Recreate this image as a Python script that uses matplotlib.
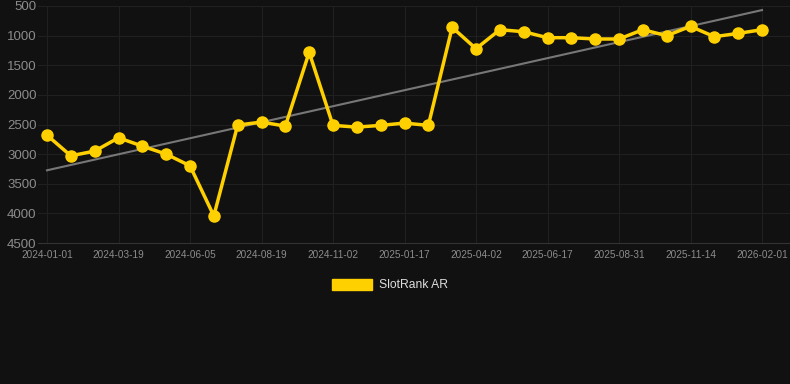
import matplotlib
matplotlib.use("Agg")
import matplotlib.pyplot as plt
from matplotlib.patches import Patch
import numpy as np

plt.rcParams['font.family'] = ['Liberation Sans', 'DejaVu Sans']

tick_labels = ["2024-01-01", "2024-03-19", "2024-06-05", "2024-08-19", "2024-11-02",
               "2025-01-17", "2025-04-02", "2025-06-17", "2025-08-31", "2025-11-14", "2026-02-01"]
ranks = [2680, 3028, 2949, 2724, 2865, 3000, 3197, 4042, 2510, 2459, 2527,
         1282, 2515, 2544, 2515, 2476, 2515, 860, 1221, 900, 934,
         1035, 1035, 1057, 1057, 900, 1001, 844, 1018, 962, 900]
series_name = "SlotRank AR"

bg = "#111111"
gold = "#FFD000"

fig = plt.figure(figsize=(7.9, 3.84), dpi=100, facecolor=bg)
ax = fig.add_axes([38/790, 1-243/384, 1-38/790, (243-6)/384], facecolor=bg)

x = np.arange(len(ranks))
ax.plot(x, ranks, color=gold, lw=2.5, marker='o', ms=8, zorder=3)

coef = np.polyfit(x, ranks, 1)
ax.plot([x[0], x[-1]], np.polyval(coef, [x[0], x[-1]]), color="#777777", lw=1.5, zorder=2)

ax.set_ylim(4500, 500)
ax.set_yticks([500, 1000, 1500, 2000, 2500, 3000, 3500, 4000, 4500])
px = (762-47)/30
ax.set_xlim(-(47-38)/px, 30 + (790-762)/px)
ax.set_xticks(x[::3])
ax.set_xticklabels(tick_labels)

ax.grid(True, color="#202020", lw=0.8, zorder=0)
for s in ["top", "right", "left"]:
    ax.spines[s].set_visible(False)
ax.spines["bottom"].set_color("#333333")
ax.tick_params(axis='y', length=0, labelsize=9.5, labelcolor="#8c8c8c", pad=1)
ax.tick_params(axis='x', length=0, labelsize=7.2, labelcolor="#8c8c8c", pad=5)

handle = Patch(facecolor=gold, edgecolor=gold)
fig.legend([handle], [series_name], loc="center", bbox_to_anchor=(390/790, 1-285/384),
           frameon=False, handlelength=3.3, handleheight=1.1, fontsize=8.7,
           labelcolor="#dddddd", handletextpad=0.6)

fig.savefig("out.png", dpi=100, facecolor=bg)
